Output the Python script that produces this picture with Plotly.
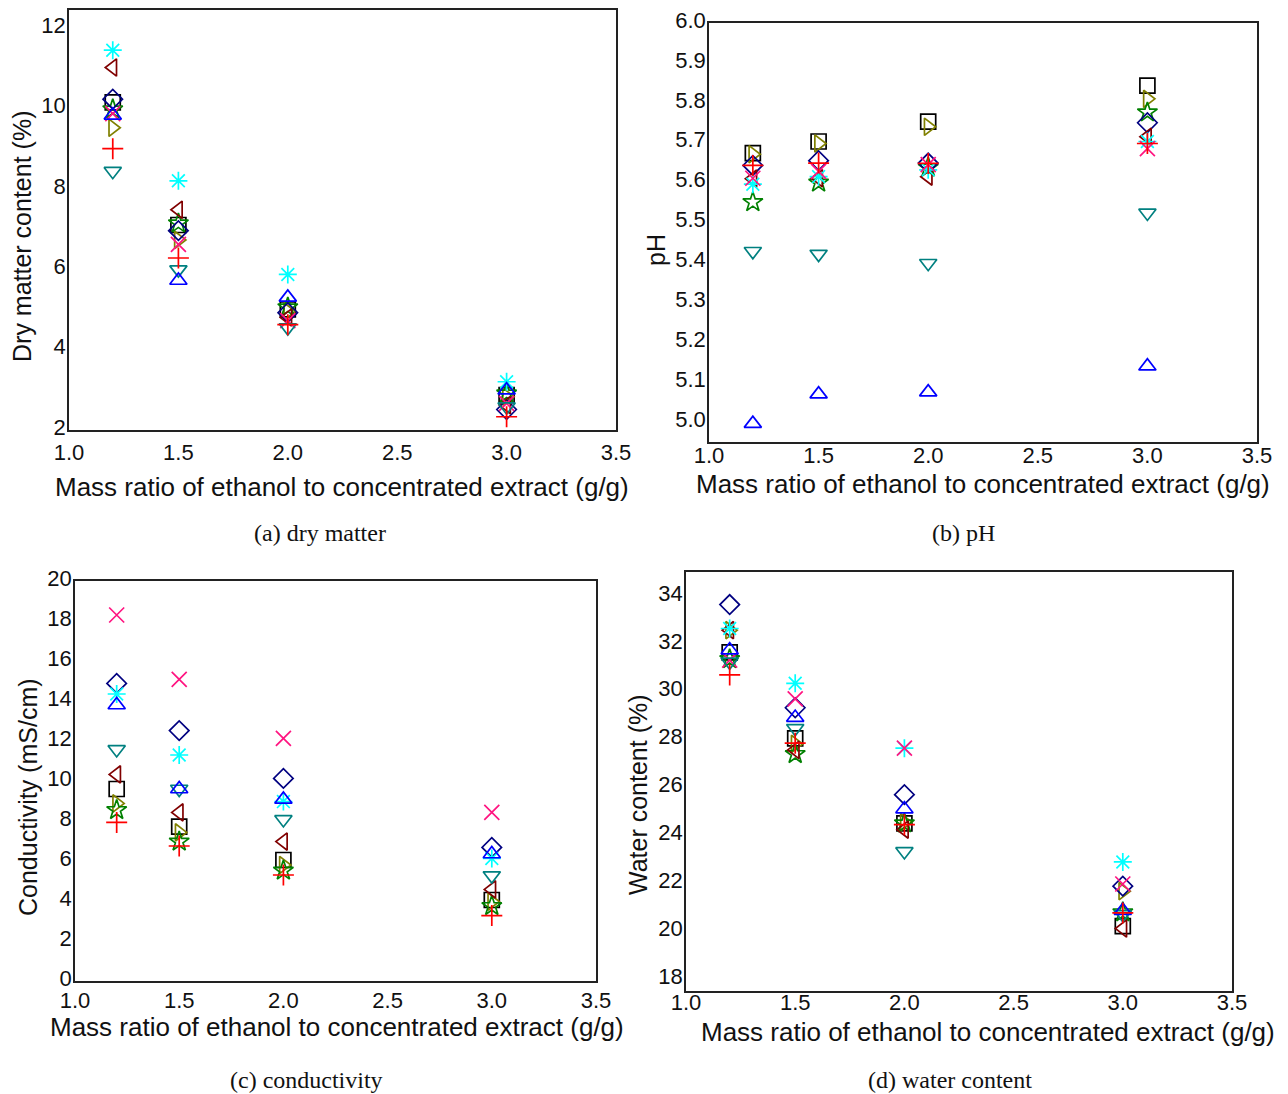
import plotly.graph_objects as go

W, H = 1288, 1094

# Mass ratio of ethanol to concentrated extract (g/g)
RATIOS = [1.2, 1.5, 2.0, 3.0]

# Marker style of each sample series (symbol, colour)
SYMBOLS = ["square-open", "triangle-right-open", "star-open", "diamond-open",
           "triangle-left-open", "asterisk-open", "x-thin-open",
           "triangle-down-open", "triangle-up-open", "cross-thin-open"]
COLORS = ["#000000", "#808000", "#008000", "#000080", "#800000",
          "#00FFFF", "#FF1480", "#008080", "#0000FF", "#FF0000"]

# One row per series, one value per ethanol ratio
DRY_MATTER = [
    [10.15, 7.10, 5.00, 2.87],
    [9.52, 6.73, 4.95, 2.83],
    [9.98, 7.14, 5.05, 2.91],
    [10.23, 6.96, 4.92, 2.51],
    [11.02, 7.48, 4.80, 2.62],
    [11.45, 8.20, 5.87, 3.20],
    [9.87, 6.62, 4.72, 2.66],
    [8.44, 5.99, 4.55, 2.58],
    [9.83, 5.72, 5.30, 2.99],
    [9.00, 6.28, 4.62, 2.33],
]
PH = [
    [5.674, 5.703, 5.753, 5.843],
    [5.671, 5.698, 5.740, 5.810],
    [5.551, 5.600, 5.638, 5.776],
    [5.643, 5.655, 5.649, 5.750],
    [5.610, 5.611, 5.615, 5.715],
    [5.596, 5.615, 5.632, 5.703],
    [5.611, 5.628, 5.645, 5.685],
    [5.428, 5.421, 5.398, 5.524],
    [4.996, 5.070, 5.075, 5.140],
    [5.643, 5.649, 5.648, 5.698],
]
CONDUCTIVITY = [
    [9.60, 7.72, 6.05, 4.05],
    [8.88, 7.43, 5.80, 3.97],
    [8.55, 6.97, 5.52, 3.75],
    [14.88, 12.52, 10.13, 6.68],
    [10.33, 8.43, 6.97, 4.58],
    [14.35, 11.30, 8.97, 6.13],
    [18.30, 15.08, 12.13, 8.43],
    [11.58, 9.60, 8.08, 5.27],
    [13.80, 9.60, 9.08, 6.35],
    [7.93, 6.75, 5.30, 3.27],
]
WATER = [
    [31.64, 28.05, 24.50, 20.21],
    [32.57, 27.82, 24.55, 21.67],
    [31.36, 27.40, 24.50, 20.79],
    [33.64, 29.33, 25.70, 21.88],
    [32.57, 27.57, 24.24, 20.11],
    [32.64, 30.35, 27.64, 22.89],
    [31.32, 29.70, 27.64, 21.97],
    [31.25, 28.47, 23.33, 20.70],
    [31.74, 28.92, 25.10, 20.86],
    [30.70, 27.85, 24.45, 20.76],
]

X_TICKS = [1.0, 1.5, 2.0, 2.5, 3.0, 3.5]
X_TITLE = "Mass ratio of ethanol to concentrated extract (g/g)"

# panel: data, y range, y ticks, y format, y title, caption,
# plot box in pixels (left, right, top, bottom), x label standoff,
# title / caption positions
PANELS = [
    dict(data=DRY_MATTER, yr=[2, 12.45], yt=[2, 4, 6, 8, 10, 12], fmt="d",
         ytitle="Dry matter content (%)", cap="(a) dry matter",
         box=(69, 616, 10, 430), xso=2,
         xt=(342, 487), yt_pos=(22, 237), cap_pos=(320, 533)),
    dict(data=PH, yr=[4.95, 6.0], yt=[5.0, 5.1, 5.2, 5.3, 5.4, 5.5, 5.6, 5.7, 5.8, 5.9, 6.0],
         fmt=".1f", ytitle="pH", cap="(b) pH",
         box=(709, 1257, 23, 442), xso=-7,
         xt=(983, 484), yt_pos=(656, 250), cap_pos=(963, 533)),
    dict(data=CONDUCTIVITY, yr=[0, 20], yt=list(range(0, 21, 2)), fmt="d",
         ytitle="Conductivity (mS/cm)", cap="(c) conductivity",
         box=(75, 596, 581, 981), xso=-1,
         xt=(337, 1027), yt_pos=(28, 797), cap_pos=(306, 1080)),
    dict(data=WATER, yr=[17.5, 35], yt=list(range(18, 35, 2)), fmt="d",
         ytitle="Water content (%)", cap="(d) water content",
         box=(686, 1232, 572, 991), xso=-9,
         xt=(988, 1032), yt_pos=(638, 795), cap_pos=(950, 1080)),
]

SANS = "Liberation Sans, Arial, sans-serif"
SERIF = "Liberation Serif, Times New Roman, serif"

fig = go.Figure()
annotations = []
layout = {}

for i, p in enumerate(PANELS, start=1):
    xa = "xaxis" if i == 1 else f"xaxis{i}"
    ya = "yaxis" if i == 1 else f"yaxis{i}"
    xref = "x" if i == 1 else f"x{i}"
    yref = "y" if i == 1 else f"y{i}"
    left, right, top, bottom = p["box"]

    for row, sym, col in zip(p["data"], SYMBOLS, COLORS):
        fig.add_trace(go.Scatter(
            x=RATIOS, y=row, mode="markers", xaxis=xref, yaxis=yref,
            showlegend=False, hoverinfo="x+y",
            marker=dict(symbol=sym, size=15, color=col,
                        line=dict(color=col, width=1.7)),
        ))

    common = dict(showgrid=False, zeroline=False, showline=True, mirror=True,
                  linecolor="#222222", linewidth=1.5, ticks="", ticklen=0,
                  automargin=False,
                  tickfont=dict(family=SANS, size=22, color="#111111"))
    layout[xa] = dict(common, domain=[left / W, right / W], range=[1.0, 3.5],
                      tickvals=X_TICKS, tickformat=".1f", anchor=yref,
                      ticklabelstandoff=p["xso"])
    layout[ya] = dict(common, domain=[1 - bottom / H, 1 - top / H], range=p["yr"],
                      tickvals=p["yt"], tickformat=p["fmt"], anchor=xref,
                      ticklabelstandoff=-3, ticklabelshift=-3)

    annotations.append(dict(text=X_TITLE, x=p["xt"][0] / W, y=1 - p["xt"][1] / H,
                            xref="paper", yref="paper", showarrow=False,
                            xanchor="center", yanchor="middle",
                            font=dict(family=SANS, size=26, color="#111111")))
    annotations.append(dict(text=p["ytitle"], x=p["yt_pos"][0] / W, y=1 - p["yt_pos"][1] / H,
                            xref="paper", yref="paper", showarrow=False, textangle=-90,
                            xanchor="center", yanchor="middle",
                            font=dict(family=SANS, size=25, color="#111111")))
    annotations.append(dict(text=p["cap"], x=p["cap_pos"][0] / W, y=1 - p["cap_pos"][1] / H,
                            xref="paper", yref="paper", showarrow=False,
                            xanchor="center", yanchor="middle",
                            font=dict(family=SERIF, size=24, color="#111111")))

fig.update_layout(
    width=W, height=H, margin=dict(l=0, r=0, t=0, b=0, autoexpand=False),
    paper_bgcolor="white", plot_bgcolor="white",
    annotations=annotations, **layout,
)

fig.write_html("out.html")
